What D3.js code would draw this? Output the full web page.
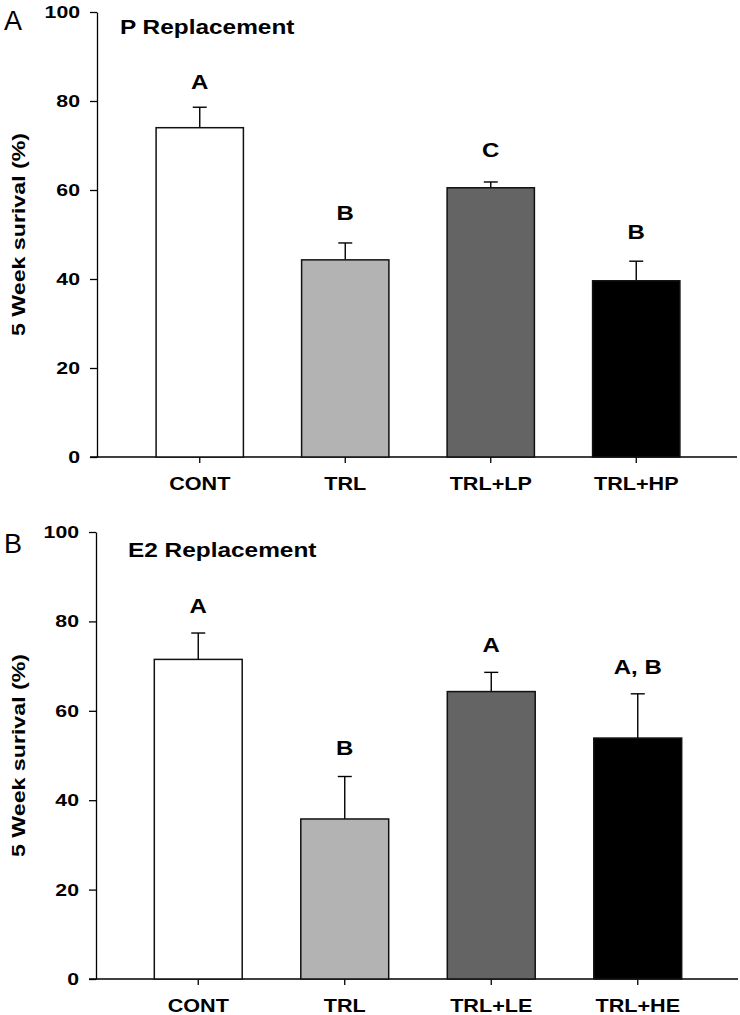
<!DOCTYPE html>
<html><head><meta charset="utf-8">
<script src="https://cdn.jsdelivr.net/npm/d3@7"></script>
<style>body{margin:0;background:#fff}svg{display:block}text{font-family:"Liberation Sans",Arial,sans-serif}</style>
</head><body><svg id="c" width="740" height="1015"></svg>
<script>
// Panel A: P replacement
const catsP = ["CONT", "TRL", "TRL+LP", "TRL+HP"];
const meanP = [74.0, 44.3, 60.5, 39.6];
const errP = [78.6, 48.1, 61.8, 44.0];
const sigP = ["A", "B", "C", "B"];
const sigPosP = [84.3, 54.8, 69.0, 50.6];
// Panel B: E2 replacement
const catsE = ["CONT", "TRL", "TRL+LE", "TRL+HE"];
const meanE = [71.5, 35.8, 64.3, 53.9];
const errE = [77.4, 45.3, 68.6, 63.8];
const sigE = ["A", "B", "A", "A, B"];
const sigPosE = [83.6, 51.7, 74.8, 69.8];
const yTicks = [0, 20, 40, 60, 80, 100];
const fills = ["#ffffff", "#b3b3b3", "#646464", "#000000"];

const svg = d3.select("#c");

function panel(cfg) {
  const g = svg.append("g");
  const y = d3.scaleLinear().domain([0, 100]).range([cfg.y0, cfg.y1]);
  const x = d3.scaleBand().domain(cfg.cats).range([cfg.b0, cfg.b1]).paddingInner(0.4).paddingOuter(0.2);

  // y axis
  const ya = g.append("g").attr("transform", `translate(${cfg.ax},0)`)
    .call(d3.axisLeft(y).tickValues(yTicks).tickSize(7).tickSizeOuter(0).tickPadding(10));
  ya.select(".domain").attr("stroke", "#000").attr("stroke-width", 1.3);
  ya.selectAll(".tick line").attr("stroke-width", 1.3);
  ya.selectAll(".tick text").attr("font-size", 17).attr("font-weight", "bold").attr("fill", "#000")
    .attr("font-family", "Liberation Sans, Arial, sans-serif")
    .attr("transform", function(){ const xx = +d3.select(this).attr("x"); return `translate(${xx},0) scale(1.25,1) translate(${-xx},0)`; });

  // x axis line
  g.append("line").attr("x1", cfg.ax - 7).attr("x2", cfg.xEnd).attr("y1", y(0)).attr("y2", y(0))
    .attr("stroke", "#000").attr("stroke-width", 1.3);
  const xa = g.append("g").attr("transform", `translate(0,${y(0)})`)
    .call(d3.axisBottom(x).tickSize(6).tickSizeOuter(0).tickPadding(14));
  xa.select(".domain").remove();
  xa.selectAll(".tick line").attr("stroke-width", 1.3);
  xa.selectAll(".tick text").attr("font-size", 18).attr("font-weight", "bold").attr("fill", "#000")
    .attr("font-family", "Liberation Sans, Arial, sans-serif")
    .attr("transform", `scale(1.2,1)`);

  // error bars
  const eb = g.append("g");
  cfg.cats.forEach((c, i) => {
    const cx = x(c) + x.bandwidth() / 2;
    eb.append("line").attr("x1", cx).attr("x2", cx).attr("y1", y(cfg.mean[i])).attr("y2", y(cfg.err[i]))
      .attr("stroke", "#000").attr("stroke-width", 1.4);
    eb.append("line").attr("x1", cx - 7).attr("x2", cx + 7).attr("y1", y(cfg.err[i])).attr("y2", y(cfg.err[i]))
      .attr("stroke", "#000").attr("stroke-width", 1.4);
  });

  // bars
  g.append("g").selectAll("rect").data(cfg.cats).join("rect")
    .attr("x", d => x(d)).attr("width", x.bandwidth())
    .attr("y", (d, i) => y(cfg.mean[i])).attr("height", (d, i) => y(0) - y(cfg.mean[i]))
    .attr("fill", (d, i) => fills[i]).attr("stroke", "#111").attr("stroke-width", 1.5);

  // significance letters
  g.append("g").selectAll("text").data(cfg.cats).join("text")
    .attr("transform", (d, i) => `translate(${x(d) + x.bandwidth() / 2},${y(cfg.sig[i])}) scale(1.2,1)`)
    .attr("text-anchor", "middle").attr("dy", "0.36em")
    .attr("font-size", 20).attr("font-weight", "bold").text((d, i) => cfg.sigText[i]);

  // title
  g.append("text").attr("transform", `translate(${cfg.tx},${cfg.ty}) scale(1.22,1)`)
    .attr("font-size", 20).attr("font-weight", "bold").text(cfg.title);

  // y-axis label
  g.append("text").attr("transform", `translate(25,${(cfg.y0 + cfg.y1) / 2}) rotate(-90) scale(1.22,1)`)
    .attr("text-anchor", "middle").attr("font-size", 19).attr("font-weight", "bold").text("5 Week surival (%)");

  // panel letter
  g.append("text").attr("x", 4).attr("y", cfg.ly).attr("font-size", 27).text(cfg.letter);
}

panel({cats: catsP, mean: meanP, err: errP, sig: sigPosP, sigText: sigP,
  y0: 457, y1: 12, ax: 97, xEnd: 737, b0: 127, b1: 709,
  title: "P Replacement", tx: 120, ty: 34, letter: "A", ly: 30});
panel({cats: catsE, mean: meanE, err: errE, sig: sigPosE, sigText: sigE,
  y0: 979, y1: 532, ax: 96, xEnd: 738, b0: 125, b1: 711,
  title: "E2 Replacement", tx: 128, ty: 557, letter: "B", ly: 553});
</script></body></html>
